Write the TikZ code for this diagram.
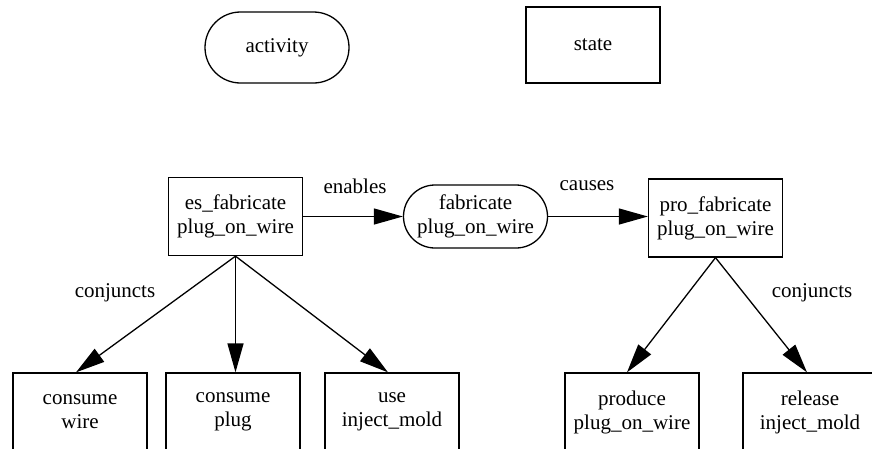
\documentclass[tikz,border=0pt]{standalone}
\usepackage{fontspec}
\setmainfont{Liberation Serif}
\usetikzlibrary{arrows.meta, shapes.misc}

\begin{document}
\begin{tikzpicture}[
    x=1pt, y=-1pt,
    font=\fontsize{21}{24}\selectfont,
    statebox/.style={rectangle, draw, line width=1.3pt, minimum width=134pt, minimum height=78pt,
                     inner sep=0pt, align=center},
    activity/.style={rounded rectangle, draw, line width=1.3pt, minimum width=144pt, inner sep=0pt,
                     align=center},
    arrow/.style={-{Triangle[length=29pt, width=16pt]}, line width=1.3pt},
    lbl/.style={inner sep=0pt}
]
\useasboundingbox (0,0) rectangle (872,448);

% --- Legend ---
\node[activity, minimum height=71pt] (legact) at (277,47.5) {activity};
\node[statebox, minimum height=76pt] (legstate) at (593,45) {state};

% --- Middle row ---
\node[statebox] (es_fab) at (235.5,216.5) {es\_fabricate\\plug\_on\_wire};
\node[activity, minimum height=63pt] (fab) at (475.5,216.5) {fabricate\\plug\_on\_wire};
\node[statebox] (pro_fab) at (715.5,218) {pro\_fabricate\\plug\_on\_wire};

% --- Bottom row ---
\node[statebox] (cons_wire) at (80,412) {consume\\wire};
\node[statebox] (cons_plug) at (233,412) {consume\\plug};
\node[statebox] (use_mold) at (392,412) {use\\inject\_mold};
\node[statebox] (prod_pow) at (632,412) {produce\\plug\_on\_wire};
\node[statebox] (rel_mold) at (810,412) {release\\inject\_mold};

% --- Arrows ---
\draw[arrow] (es_fab.east |- fab) -- (fab.west);
\draw[arrow] (fab.east) -- (pro_fab.west |- fab);
\node[lbl] at (355,186) {enables};
\node[lbl] at (587,186) {causes};

\draw[arrow] (es_fab.south) -- ([xshift=-4pt]cons_wire.north);
\draw[arrow] (es_fab.south) -- (es_fab.south |- cons_plug.north);
\draw[arrow] (es_fab.south) -- ([xshift=-4pt]use_mold.north);
\node[lbl] at (115,293) {conjuncts};

\draw[arrow] (pro_fab.south) -- ([xshift=-5pt]prod_pow.north);
\draw[arrow] (pro_fab.south) -- ([xshift=-3pt]rel_mold.north);
\node[lbl] at (812,293) {conjuncts};

\end{tikzpicture}
\end{document}
